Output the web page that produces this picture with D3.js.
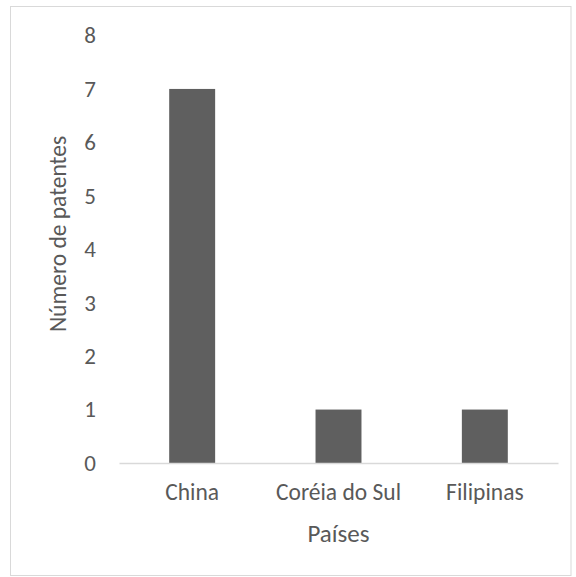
<!DOCTYPE html>
<html><head><meta charset="utf-8">
<script src="https://cdn.jsdelivr.net/npm/d3@7"></script>
<style>body{margin:0;background:#fff}svg text{font-family:Carlito,Lato,"Open Sans",sans-serif;fill:#595959}</style>
</head><body>
<script>
const categories = ["China", "Coréia do Sul", "Filipinas"];
const values = [7, 1, 1];
const yTicks = [0, 1, 2, 3, 4, 5, 6, 7, 8];
const xTitle = "Países";
const yTitle = "Número de patentes";

const W = 576, H = 577;
const svg = d3.select("body").append("svg").attr("width", W).attr("height", H);
svg.append("rect").attr("x", 10.5).attr("y", 6.5).attr("width", 560.5).attr("height", 569)
  .attr("fill", "#fff").attr("stroke", "#d9d9d9").attr("stroke-width", 1);

const plot = {left: 119, right: 558, top: 35.5, bottom: 463};
const x = d3.scaleBand().domain(categories).range([plot.left, plot.right]).paddingInner(0.686).paddingOuter(0.343);
const y = d3.scaleLinear().domain([0, 8]).range([plot.bottom, plot.top]);

svg.selectAll("rect.bar").data(values).join("rect").attr("class", "bar")
  .attr("x", (d, i) => x(categories[i])).attr("width", x.bandwidth())
  .attr("y", d => y(d)).attr("height", d => y(0) - y(d)).attr("fill", "#5f5f5f");

const yAxis = svg.append("g").attr("transform", `translate(${plot.left},0)`)
  .call(d3.axisLeft(y).tickValues(yTicks).tickSize(0).tickPadding(29).tickFormat(d3.format("d")));
yAxis.select(".domain").remove();
yAxis.selectAll("text").attr("font-size", 23).attr("text-anchor", "middle");

const xAxis = svg.append("g").attr("transform", `translate(0,${plot.bottom})`)
  .call(d3.axisBottom(x).tickSize(0).tickPadding(20));
xAxis.select(".domain").attr("stroke", "#d9d9d9").attr("stroke-width", 1.5);
xAxis.selectAll("text").attr("font-size", 23.5);

svg.append("text").attr("x", (plot.left + plot.right) / 2).attr("y", 533).attr("dy", "0.35em")
  .attr("text-anchor", "middle").attr("font-size", 25).text(xTitle);
svg.append("text").attr("transform", "translate(58,234) rotate(-90)").attr("dy", "0.35em")
  .attr("text-anchor", "middle").attr("font-size", 23.5).text(yTitle);
</script>
</body></html>
